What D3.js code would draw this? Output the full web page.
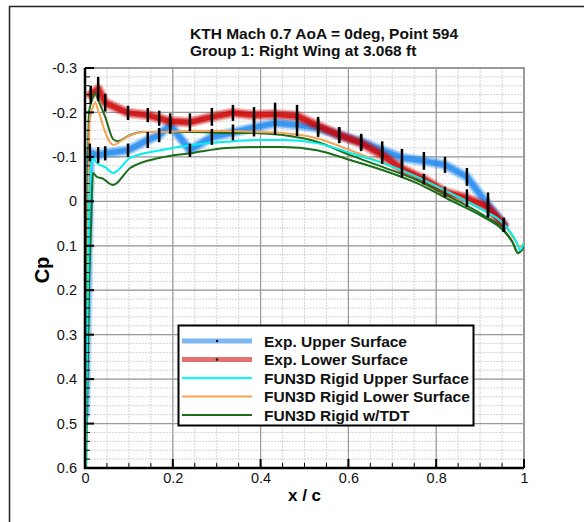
<!DOCTYPE html>
<html>
<head>
<meta charset="utf-8">
<script src="https://cdn.jsdelivr.net/npm/d3@7"></script>
<style>
  body { margin: 0; background: #fff; }
  svg { font-family: "Liberation Sans", Arial, Helvetica, sans-serif; }
</style>
</head>
<body>
<svg id="chart" width="584" height="522"></svg>
<script>
const titleLines = ['KTH Mach 0.7 AoA = 0deg, Point 594', 'Group 1: Right Wing at 3.068 ft']
const xTicks = [0, 0.2, 0.4, 0.6, 0.8, 1]
const yTicks = [-0.3, -0.2, -0.1, 0, 0.1, 0.2, 0.3, 0.4, 0.5, 0.6]
const legendLabels = ['Exp. Upper Surface', 'Exp. Lower Surface', 'FUN3D Rigid Upper Surface', 'FUN3D Rigid Lower Surface', 'FUN3D Rigid w/TDT']

// experiment, upper surface
const expUpperX = [0, 0.011, 0.03, 0.046, 0.098, 0.143, 0.169, 0.194, 0.239, 0.289, 0.337, 0.385, 0.433, 0.483, 0.531, 0.579, 0.629, 0.677, 0.722, 0.772, 0.82, 0.87, 0.918, 0.954]
const expUpperCp = [0.48, -0.11, -0.104, -0.108, -0.115, -0.138, -0.149, -0.172, -0.115, -0.145, -0.155, -0.166, -0.176, -0.172, -0.165, -0.149, -0.134, -0.115, -0.098, -0.091, -0.082, -0.055, 0.008, 0.053]
const expUpperErr = [0, 0.02, 0.018, 0.016, 0.015, 0.018, 0.016, 0.02, 0.015, 0.018, 0.018, 0.02, 0.026, 0.025, 0.02, 0.018, 0.018, 0.02, 0.02, 0.02, 0.018, 0.02, 0.028, 0.016]

// experiment, lower surface
const expLowerX = [0.013, 0.03, 0.046, 0.098, 0.143, 0.169, 0.194, 0.239, 0.289, 0.337, 0.385, 0.433, 0.483, 0.531, 0.579, 0.629, 0.677, 0.722, 0.772, 0.82, 0.87, 0.918, 0.954]
const expLowerCp = [-0.24, -0.253, -0.222, -0.199, -0.194, -0.187, -0.18, -0.178, -0.19, -0.199, -0.194, -0.196, -0.192, -0.17, -0.149, -0.131, -0.104, -0.073, -0.05, -0.021, -0.007, 0.013, 0.053]
const expLowerErr = [0.02, 0.027, 0.02, 0.016, 0.016, 0.017, 0.018, 0.02, 0.02, 0.018, 0.018, 0.026, 0.025, 0.02, 0.018, 0.018, 0.02, 0.02, 0.012, 0.012, 0.02, 0.02, 0.016]

// FUN3D rigid, upper surface
const cfdUpperX = [0, 0.004, 0.009, 0.014, 0.018, 0.027, 0.046, 0.064, 0.103, 0.171, 0.246, 0.323, 0.399, 0.451, 0.528, 0.604, 0.679, 0.756, 0.831, 0.907, 0.952, 0.984, 0.991, 1.0]
const cfdUpperCp = [0.8, 0.35, 0.05, -0.08, -0.098, -0.086, -0.077, -0.064, -0.098, -0.115, -0.127, -0.134, -0.138, -0.138, -0.131, -0.109, -0.086, -0.055, -0.019, 0.02, 0.049, 0.094, 0.11, 0.094]

// FUN3D rigid, lower surface
const cfdLowerX = [0, 0.004, 0.008, 0.011, 0.018, 0.023, 0.03, 0.046, 0.064, 0.096, 0.132, 0.171, 0.246, 0.323, 0.399, 0.451, 0.528, 0.604, 0.679, 0.756, 0.831, 0.907, 0.952, 0.984, 0.991, 1.0]
const cfdLowerCp = [0.8, 0.3, -0.05, -0.183, -0.212, -0.223, -0.205, -0.156, -0.127, -0.145, -0.156, -0.156, -0.158, -0.158, -0.156, -0.154, -0.142, -0.115, -0.086, -0.055, -0.019, 0.02, 0.049, 0.094, 0.103, 0.094]

// FUN3D rigid w/TDT, upper and lower surface
const tdtUpperX = [0, 0.004, 0.009, 0.014, 0.018, 0.027, 0.039, 0.064, 0.103, 0.171, 0.246, 0.323, 0.399, 0.451, 0.528, 0.604, 0.679, 0.756, 0.831, 0.907, 0.952, 0.975, 0.986, 0.995, 1.0]
const tdtUpperCp = [0.8, 0.5, 0.2, 0.05, -0.064, -0.055, -0.052, -0.037, -0.075, -0.098, -0.109, -0.12, -0.122, -0.122, -0.115, -0.093, -0.07, -0.041, -0.003, 0.035, 0.065, 0.094, 0.116, 0.11, 0.096]
const tdtLowerX = [0, 0.003, 0.006, 0.009, 0.016, 0.023, 0.03, 0.046, 0.064, 0.075, 0.1, 0.13, 0.171, 0.246, 0.323, 0.376, 0.451, 0.528, 0.604, 0.679, 0.756, 0.831, 0.907, 0.952, 0.975, 0.986, 0.995, 1.0]
const tdtLowerCp = [0.8, 0.4, 0.0, -0.199, -0.228, -0.244, -0.228, -0.19, -0.14, -0.135, -0.148, -0.156, -0.156, -0.156, -0.154, -0.154, -0.149, -0.134, -0.104, -0.077, -0.048, -0.01, 0.031, 0.062, 0.094, 0.116, 0.11, 0.096]

const svg = d3.select('#chart')
const plotL = 85
const plotR = 524
const plotT = 68
const plotB = 468

const x = d3.scaleLinear().domain([0, 1]).range([plotL, plotR])
const y = d3.scaleLinear().domain([-0.3, 0.6]).range([plotT, plotB])

const fmt = d => (d === 0 || d === 1) ? String(d) : d3.format('.1f')(d).replace('\u2212', '-')

// outer frame
svg.append('path')
  .attr('d', 'M9.5,522V6.5H584')
  .attr('fill', 'none')
  .attr('stroke', '#222')
  .attr('stroke-width', 1.5)

// minor grid
const xMinor = d3.range(0, 1.0001, 0.05)
const yMinor = d3.range(-0.3, 0.6001, 0.02)
svg.append('g')
  .selectAll('line')
  .data(xMinor)
  .join('line')
  .attr('x1', d => x(d)).attr('x2', d => x(d))
  .attr('y1', plotT).attr('y2', plotB)
  .attr('stroke', '#d4d4d4').attr('stroke-dasharray', '2,1')
svg.append('g')
  .selectAll('line')
  .data(yMinor)
  .join('line')
  .attr('x1', plotL).attr('x2', plotR)
  .attr('y1', d => y(d)).attr('y2', d => y(d))
  .attr('stroke', '#d4d4d4').attr('stroke-dasharray', '2,1')

// major grid
svg.append('g')
  .selectAll('line')
  .data(xTicks)
  .join('line')
  .attr('x1', d => x(d)).attr('x2', d => x(d))
  .attr('y1', plotT).attr('y2', plotB)
  .attr('stroke', '#9a9a9a').attr('stroke-width', 1.2)
svg.append('g')
  .selectAll('line')
  .data(yTicks)
  .join('line')
  .attr('x1', plotL).attr('x2', plotR)
  .attr('y1', d => y(d)).attr('y2', d => y(d))
  .attr('stroke', '#9a9a9a').attr('stroke-width', 1.2)

// top / right border
svg.append('path')
  .attr('d', `M${plotL},${plotT}H${plotR}V${plotB}`)
  .attr('fill', 'none')
  .attr('stroke', '#999')
  .attr('stroke-width', 2)

svg.append('clipPath').attr('id', 'clip')
  .append('rect')
  .attr('x', plotL).attr('y', plotT)
  .attr('width', plotR - plotL).attr('height', plotB - plotT)

const plot = svg.append('g').attr('clip-path', 'url(#clip)')

const zip = (xs, ys) => xs.map((v, i) => [v, ys[i]])
const smooth = d3.line().x(d => x(d[0])).y(d => y(d[1])).curve(d3.curveMonotoneX)
const straight = d3.line().x(d => x(d[0])).y(d => y(d[1]))

// experimental bands (fuzzy thick lines)
const drawExp = (xs, ys, color) => {
  const pts = zip(xs, ys)
  ;[[11, 0.25], [8, 0.45], [5, 0.7]].forEach(([w, o]) => {
    plot.append('path')
      .attr('d', straight(pts))
      .attr('fill', 'none')
      .attr('stroke', color)
      .attr('stroke-opacity', o)
      .attr('stroke-width', w)
      .attr('stroke-linejoin', 'round')
      .attr('stroke-linecap', 'round')
  })
}
drawExp(expUpperX, expUpperCp, '#1e88f0')
drawExp(expLowerX, expLowerCp, '#cc0000')

// CFD lines
const drawCfd = (xs, ys, color) => {
  plot.append('path')
    .attr('d', smooth(zip(xs, ys)))
    .attr('fill', 'none')
    .attr('stroke', color)
    .attr('stroke-width', 2)
    .attr('stroke-linejoin', 'round')
}
drawCfd(tdtLowerX, tdtLowerCp, '#1a6e1a')
drawCfd(tdtUpperX, tdtUpperCp, '#1a6e1a')
drawCfd(cfdLowerX, cfdLowerCp, '#f7a356')
drawCfd(cfdUpperX, cfdUpperCp, '#00f0f0')

// error bars
const drawErr = (xs, ys, es) => {
  plot.append('g')
    .selectAll('line')
    .data(zip(xs, ys).map((d, i) => [d[0], d[1], es[i]]).filter(d => d[2] > 0))
    .join('line')
    .attr('x1', d => x(d[0])).attr('x2', d => x(d[0]))
    .attr('y1', d => y(d[1] - d[2])).attr('y2', d => y(d[1] + d[2]))
    .attr('stroke', '#000')
    .attr('stroke-width', 2.5)
}
drawErr(expUpperX, expUpperCp, expUpperErr)
drawErr(expLowerX, expLowerCp, expLowerErr)

// axes
const yAxisG = svg.append('g').attr('transform', `translate(${plotL},0)`)
yAxisG.call(d3.axisLeft(y).tickValues(yTicks).tickSize(0).tickPadding(8).tickFormat(fmt))
yAxisG.select('.domain').remove()
yAxisG.selectAll('text').attr('font-size', 14.5).attr('fill', '#111').attr('font-family', null)

const xAxisG = svg.append('g').attr('transform', `translate(0,${plotB})`)
xAxisG.call(d3.axisBottom(x).tickValues(xTicks).tickSize(0).tickPadding(5).tickFormat(fmt))
xAxisG.select('.domain').remove()
xAxisG.selectAll('text').attr('font-size', 14.5).attr('fill', '#111').attr('font-family', null)

// inward ticks
const tickG = svg.append('g').attr('stroke', '#000')
tickG.selectAll('.ymaj').data(yTicks).join('line')
  .attr('x1', plotL).attr('x2', plotL + 9)
  .attr('y1', d => y(d)).attr('y2', d => y(d))
  .attr('stroke-width', 2)
tickG.selectAll('.ymin').data(yMinor).join('line')
  .attr('x1', plotL).attr('x2', plotL + 5)
  .attr('y1', d => y(d)).attr('y2', d => y(d))
  .attr('stroke-width', 1)
tickG.selectAll('.xmaj').data(xTicks).join('line')
  .attr('x1', d => x(d)).attr('x2', d => x(d))
  .attr('y1', plotB).attr('y2', plotB - 9)
  .attr('stroke-width', 2)
tickG.selectAll('.xmin').data(xMinor).join('line')
  .attr('x1', d => x(d)).attr('x2', d => x(d))
  .attr('y1', plotB).attr('y2', plotB - 5)
  .attr('stroke-width', 1)

// axis lines
svg.append('path')
  .attr('d', `M${plotL},${plotT}V${plotB}H${plotR}`)
  .attr('fill', 'none')
  .attr('stroke', '#000')
  .attr('stroke-width', 2.5)

// titles
svg.append('g')
  .selectAll('text')
  .data(titleLines)
  .join('text')
  .attr('x', 190)
  .attr('y', (d, i) => 39 + i * 17)
  .attr('font-size', 15.5)
  .attr('font-weight', 'bold')
  .attr('fill', '#111')
  .text(d => d)

svg.append('text')
  .attr('transform', `translate(49,270) rotate(-90)`)
  .attr('text-anchor', 'middle')
  .attr('font-size', 20)
  .attr('font-weight', 'bold')
  .text('Cp')

svg.append('text')
  .attr('x', (plotL + plotR) / 2)
  .attr('y', 501)
  .attr('text-anchor', 'middle')
  .attr('font-size', 17)
  .attr('font-weight', 'bold')
  .text('x / c')

// legend
const legend = svg.append('g')
legend.append('rect')
  .attr('x', 178.5).attr('y', 325.5)
  .attr('width', 295).attr('height', 100)
  .attr('fill', '#fff')
  .attr('stroke', '#000')
  .attr('stroke-width', 2)
const legendStyles = [
  { color: '#7db8f2', width: 5, dot: true },
  { color: '#e27272', width: 5, dot: true },
  { color: '#00ffff', width: 2, dot: false },
  { color: '#f7a356', width: 2, dot: false },
  { color: '#1a6e1a', width: 2, dot: false }
]
const rows = legend.selectAll('.row')
  .data(legendLabels)
  .join('g')
  .attr('transform', (d, i) => `translate(0,${341 + i * 18.5})`)
rows.append('line')
  .attr('x1', 182).attr('x2', 252)
  .attr('stroke', (d, i) => legendStyles[i].color)
  .attr('stroke-width', (d, i) => legendStyles[i].width)
rows.filter((d, i) => legendStyles[i].dot)
  .append('circle')
  .attr('cx', 217).attr('r', 1.2).attr('fill', '#000')
rows.append('text')
  .attr('x', 264)
  .attr('dy', '0.36em')
  .attr('font-size', 15.5)
  .attr('font-weight', 'bold')
  .attr('fill', '#111')
  .text(d => d)
</script>
</body>
</html>
